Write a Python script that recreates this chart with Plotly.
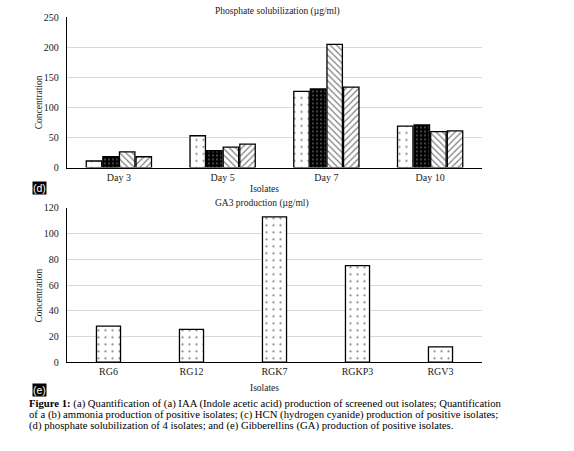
import plotly.graph_objects as go

# ---- data ----
days = ["Day 3", "Day 5", "Day 7", "Day 10"]
series_names = ["Isolate 1", "Isolate 2", "Isolate 3", "Isolate 4"]
phos_s1 = [11, 53, 127, 69]
phos_s2 = [18, 28, 131, 71]
phos_s3 = [26, 34, 205, 60]
phos_s4 = [18, 39, 134, 61]

isolates = ["RG6", "RG12", "RGK7", "RGKP3", "RGV3"]
ga3_values = [28, 25.5, 113, 75, 12]

W, H = 574, 451
def px(x):
    return x / W
def py(y):
    return 1 - y / H

SERIF = "Liberation Serif"
SANS = "Liberation Sans"
TXT = "#1a1a1a"

fig = go.Figure()

patterns = [
    dict(shape=".", bgcolor="white", fgcolor="black", size=7, solidity=0.08),
    dict(shape=".", bgcolor="black", fgcolor="white", size=4, solidity=0.15),
    dict(shape="\\", bgcolor="white", fgcolor="black", size=4.5, solidity=0.28),
    dict(shape="/", bgcolor="white", fgcolor="black", size=4.5, solidity=0.28),
]
for name, vals, pat in zip(series_names, [phos_s1, phos_s2, phos_s3, phos_s4], patterns):
    fig.add_trace(go.Bar(
        x=days, y=vals, name=name, xaxis="x", yaxis="y",
        marker=dict(color=pat["bgcolor"], pattern=pat,
                    line=dict(color="black", width=1.3)),
        showlegend=False,
    ))

fig.add_trace(go.Bar(
    x=isolates, y=ga3_values, name="GA3", xaxis="x2", yaxis="y2",
    width=0.29,
    marker=dict(color="white",
                pattern=dict(shape=".", bgcolor="white", fgcolor="black", size=7, solidity=0.08),
                line=dict(color="black", width=1.3)),
    showlegend=False,
))

axis_common = dict(
    showline=True, linecolor="black", linewidth=1.3,
    tickfont=dict(family=SERIF, size=10, color=TXT),
)

fig.update_layout(
    width=W, height=H, autosize=False,
    margin=dict(l=0, r=0, t=0, b=0),
    paper_bgcolor="white", plot_bgcolor="white",
    barmode="group", bargap=0.36, bargroupgap=0.07,
    xaxis=dict(domain=[px(67), px(482)], anchor="y", ticks="", **axis_common),
    yaxis=dict(domain=[py(166), py(11.7)], anchor="x", range=[0, 250],
               tickvals=[0, 50, 100, 150, 200, 250], showgrid=True,
               gridcolor="#d9d9d9", gridwidth=1, zeroline=False, ticks="",
               ticklabelstandoff=5, **axis_common),
    xaxis2=dict(domain=[px(67), px(482)], anchor="y2", ticks="", **axis_common),
    yaxis2=dict(domain=[py(366), py(207.3)], anchor="x2", range=[0, 120],
                tickvals=[0, 20, 40, 60, 80, 100, 120], showgrid=True,
                gridcolor="#d9d9d9", gridwidth=1, zeroline=False, ticks="",
                ticklabelstandoff=5, **axis_common),
)

def ann(text, x, y, size=9.5, family=SERIF, xanchor="center", **kw):
    fig.add_annotation(text=text, x=px(x), y=py(y), xref="paper", yref="paper",
                       xanchor=xanchor, yanchor="middle", showarrow=False,
                       font=dict(family=family, size=size, color=kw.pop("color", TXT)), **kw)

ann("Phosphate solubilization (µg/ml)", 277.5, 6)
ann("GA3 production (µg/ml)", 261.5, 203)
ann("Isolates", 264, 188)
ann("Isolates", 264, 392)
ann("Concentration", 39, 99, textangle=-90)
ann("Concentration", 39, 297.5, textangle=-90)
ann("(d)", 39.5, 186.5, size=10.5, family=SANS, color="white", bgcolor="black", borderpad=0)
ann("(e)", 39.5, 394.5, size=10.5, family=SANS, color="white", bgcolor="black", borderpad=0)

cap_lines = [
    "<b>Figure 1:</b> (a) Quantification of (a) IAA (Indole acetic acid) production of screened out isolates; Quantification",
    "of a (b) ammonia production of positive isolates; (c) HCN (hydrogen cyanide) production of positive isolates;",
    "(d) phosphate solubilization of 4 isolates; and (e) Gibberellins (GA) production of positive isolates.",
]
for i, line in enumerate(cap_lines):
    ann(line, 27, 408.5 + i * 11.4, size=10.7, xanchor="left", color="black")

fig.write_html("out.html")
